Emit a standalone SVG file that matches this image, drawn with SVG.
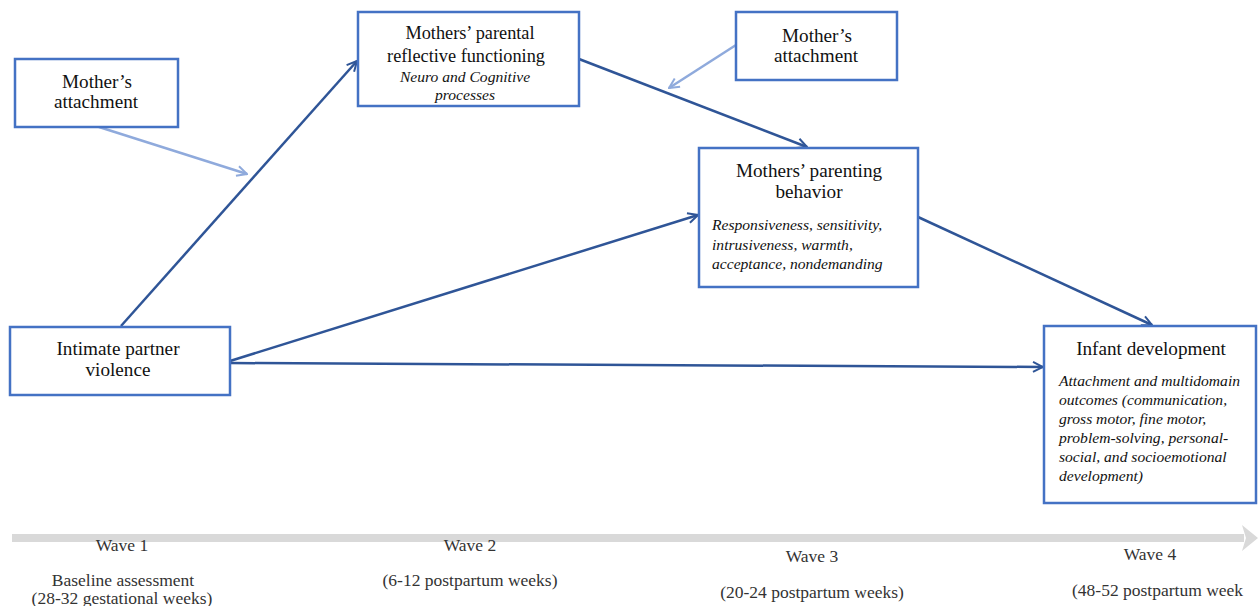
<svg xmlns="http://www.w3.org/2000/svg" width="1258" height="606" viewBox="0 0 1258 606">
<style>
.box{fill:#fff;stroke:#4472C4;stroke-width:2.5}
.t{font-family:"Liberation Serif","Times New Roman",serif;font-size:19.2px;fill:#111;text-anchor:middle}
.t2{font-size:18.3px}
.i{font-family:"Liberation Serif","Times New Roman",serif;font-size:15.6px;font-style:italic;fill:#111}
.ic{text-anchor:middle}
.w{font-family:"Liberation Serif","Times New Roman",serif;font-size:17.5px;fill:#333;text-anchor:middle}
.dk{stroke:#2F5597;stroke-width:2.5;fill:none}
.lt{stroke:#8FAADC;stroke-width:2.5;fill:none}
</style>
<defs>
<marker id="ad" viewBox="0 0 12 12" refX="11" refY="6" markerWidth="12" markerHeight="12" markerUnits="userSpaceOnUse" orient="auto"><path d="M1,1 L11,6 L1,11" fill="none" stroke="#2F5597" stroke-width="2"/></marker>
<marker id="al" viewBox="0 0 12 12" refX="11" refY="6" markerWidth="12" markerHeight="12" markerUnits="userSpaceOnUse" orient="auto"><path d="M1,1 L11,6 L1,11" fill="none" stroke="#8FAADC" stroke-width="2"/></marker>
</defs>
<g id="timeline">
<line x1="12" y1="538" x2="1244" y2="538" stroke="#D9D9D9" stroke-width="8"/>
<polygon points="1242,525 1258,538 1242,551 1246,538" fill="#D9D9D9"/>
<text class="w" x="122" y="551">Wave 1</text>
<text class="w" x="123" y="586">Baseline  assessment</text>
<text class="w" x="122" y="604">(28-32 gestational weeks)</text>
<text class="w" x="470" y="551">Wave 2</text>
<text class="w" x="470" y="586">(6-12 postpartum weeks)</text>
<text class="w" x="812" y="562">Wave 3</text>
<text class="w" x="812" y="598">(20-24 postpartum weeks)</text>
<text class="w" x="1150" y="560">Wave 4</text>
<text class="w" x="1072" y="596" style="text-anchor:start">(48-52 postpartum week</text>
</g>
<g id="connectors">
<line class="dk" x1="121" y1="326" x2="357" y2="61" marker-end="url(#ad)"/>
<line class="dk" x1="230" y1="361" x2="698" y2="215" marker-end="url(#ad)"/>
<line class="dk" x1="230" y1="363" x2="1043" y2="367" marker-end="url(#ad)"/>
<line class="dk" x1="579" y1="59" x2="807" y2="147" marker-end="url(#ad)"/>
<line class="dk" x1="918" y1="217" x2="1152" y2="325" marker-end="url(#ad)"/>
<line class="lt" x1="99" y1="127" x2="247" y2="174" marker-end="url(#al)"/>
<line class="lt" x1="736" y1="45" x2="669" y2="88" marker-end="url(#al)"/>
</g>
<g id="attach-left">
<rect class="box" x="15" y="59" width="163" height="68"/>
<text class="t" x="97" y="88">Mother’s</text>
<text class="t" x="96" y="108">attachment</text>
</g>
<g id="rf">
<rect class="box" x="358" y="12" width="221" height="94"/>
<text class="t t2" x="470" y="39">Mothers’ parental</text>
<text class="t t2" x="466" y="62">reflective functioning</text>
<text class="i ic" x="465" y="82">Neuro and Cognitive</text>
<text class="i ic" x="465" y="100">processes</text>
</g>
<g id="attach-right">
<rect class="box" x="736" y="12" width="161" height="68"/>
<text class="t" x="817" y="42">Mother’s</text>
<text class="t" x="816" y="62">attachment</text>
</g>
<g id="parenting">
<rect class="box" x="699" y="148" width="219" height="139"/>
<text class="t" x="809" y="177">Mothers’ parenting</text>
<text class="t" x="809" y="198">behavior</text>
<text class="i" x="712" y="230">Responsiveness, sensitivity,</text>
<text class="i" x="712" y="250">intrusiveness, warmth,</text>
<text class="i" x="712" y="269">acceptance, nondemanding</text>
</g>
<g id="ipv">
<rect class="box" x="10" y="327" width="220" height="68"/>
<text class="t" x="118" y="355">Intimate partner</text>
<text class="t" x="118" y="376">violence</text>
</g>
<g id="infant">
<rect class="box" x="1044" y="326" width="212" height="177"/>
<text class="t" x="1151" y="355">Infant development</text>
<text class="i" x="1059" y="386">Attachment and multidomain</text>
<text class="i" x="1059" y="405">outcomes (communication,</text>
<text class="i" x="1059" y="424">gross motor, fine motor,</text>
<text class="i" x="1059" y="443">problem-solving, personal-</text>
<text class="i" x="1059" y="462">social, and socioemotional</text>
<text class="i" x="1059" y="481">development)</text>
</g>
</svg>
